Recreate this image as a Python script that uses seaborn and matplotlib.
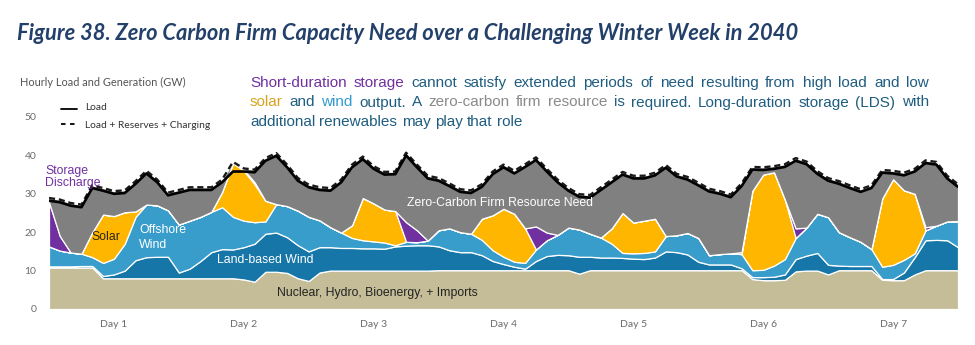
import numpy as np
import pandas as pd
import matplotlib
matplotlib.use("Agg")
import matplotlib.pyplot as plt
from matplotlib.lines import Line2D
import seaborn as sns

# Hourly values (GW), sampled every two hours across the week
hours = np.arange(0, 169, 2)

nuclear_hydro_bio_imports = np.array([
    10.8, 10.8, 10.8, 10.8, 10.8, 8.0, 8.0, 8.0, 8.0, 8.0, 8.0, 8.0,
    8.0, 8.0, 8.0, 8.0, 8.0, 8.0, 7.7, 7.1, 9.7, 9.7, 9.4, 8.0,
    7.3, 9.5, 10.0, 10.0, 10.0, 10.0, 10.0, 10.0, 10.0, 10.0, 10.0, 10.0,
    10.1, 10.1, 10.1, 10.1, 10.1, 10.1, 10.1, 10.1, 10.1, 10.1, 10.1, 10.1,
    10.1, 9.2, 10.1, 10.1, 10.1, 10.1, 10.1, 10.1, 10.1, 10.1, 10.1, 10.1,
    10.1, 10.1, 10.1, 10.1, 10.1, 7.8, 7.5, 7.5, 7.6, 9.8, 10.0, 10.0,
    9.0, 10.1, 10.1, 10.1, 10.1, 7.6, 7.5, 7.5, 9.0, 10.1, 10.1, 10.1,
    10.1])

land_based_wind = np.array([
    0.3, 0.3, 0.3, 0.4, 0.4, 0.6, 1.0, 2.0, 4.7, 5.5, 5.6, 5.6,
    1.5, 2.5, 4.5, 6.8, 7.6, 7.5, 8.4, 9.9, 9.9, 10.2, 9.3, 8.6,
    7.7, 6.6, 6.1, 5.9, 5.9, 5.8, 5.8, 5.7, 6.3, 6.5, 6.6, 6.6,
    6.2, 5.2, 4.7, 4.7, 3.9, 2.4, 1.6, 0.9, 0.4, 2.4, 3.7, 4.0,
    3.9, 4.4, 3.5, 3.3, 3.3, 3.2, 3.0, 2.9, 3.3, 4.9, 4.7, 4.1,
    2.2, 1.5, 1.5, 1.5, 0.5, 0.5, 0.8, 0.9, 1.4, 3.2, 3.9, 4.6,
    2.5, 1.2, 1.1, 1.1, 1.1, 0.2, 0.3, 2.0, 4.5, 7.8, 7.9, 7.8,
    6.0])

offshore_wind = np.array([
    5.2, 4.1, 3.6, 3.2, 2.3, 3.4, 4.1, 7.0, 11.3, 13.7, 13.4, 12.1,
    12.5, 12.5, 11.5, 10.5, 10.9, 8.5, 6.9, 5.6, 3.2, 7.4, 8.1, 9.0,
    9.0, 7.0, 5.2, 4.0, 2.6, 2.1, 1.8, 1.6, 0.3, 1.0, 0.8, 1.2,
    4.2, 5.7, 5.2, 4.8, 4.0, 2.8, 1.9, 1.3, 1.5, 3.0, 4.1, 5.2,
    7.2, 7.1, 6.0, 5.2, 3.6, 1.3, 1.4, 1.6, 1.6, 4.0, 4.4, 5.6,
    6.2, 2.4, 2.7, 2.9, 3.7, 1.8, 1.9, 2.9, 4.0, 5.5, 7.3, 10.2,
    12.4, 8.7, 7.5, 6.3, 4.4, 3.2, 3.7, 3.3, 1.0, 2.6, 3.7, 4.9,
    6.8])

solar = np.array([
    0, 0, 0, 0, 6.5, 12.6, 11.1, 8.2, 1.4, 0, 0, 0,
    0, 0, 0, 0, 4.0, 14.0, 13.0, 9.9, 5.4, 0, 0, 0,
    0, 0, 0, 0, 3.3, 11.0, 9.9, 8.6, 8.9, 0, 0, 0,
    0, 0, 0, 0, 5.5, 9.1, 12.5, 12.5, 9.0, 0, 0, 0,
    0, 0, 0, 0, 4.0, 10.4, 8.0, 8.4, 8.5, 0, 0, 0,
    0, 0, 0, 0, 0, 20.7, 24.8, 24.3, 15.5, 0, 0, 0,
    0, 0, 0, 0, 0, 17.8, 22.3, 18.1, 15.5, 0, 0, 0,
    0])

storage_discharge = np.array([
    11.5, 3.8, 0, 0, 0, 0, 0, 0, 0, 0, 0, 0,
    0, 0, 0, 0, 0, 0, 0.3, 0.5, 0, 0, 0, 0,
    0, 0, 0, 0, 0, 0, 0, 0, 0, 5.1, 3.1, 0,
    0, 0, 0, 0, 0, 0, 0, 0, 0, 6.0, 2.0, 0,
    0, 0, 0, 0, 0, 0, 0, 0, 0, 0, 0, 0,
    0, 0, 0, 0, 0.5, 0, 0, 0, 0, 2.5, 0, 0,
    0, 0, 0, 0, 0, 0, 0, 0, 0, 0.8, 0, 0,
    0])

load = np.array([
    28.2, 27.8, 26.9, 26.5, 31.5, 30.8, 30.0, 30.2, 32.6, 35.3, 33.0, 29.6,
    30.3, 31.0, 31.0, 31.0, 33.0, 35.8, 35.8, 35.6, 38.6, 39.9, 36.9, 33.4,
    31.7, 31.0, 30.8, 33.0, 36.9, 39.0, 36.5, 35.0, 35.1, 40.0, 36.9, 34.0,
    33.4, 32.0, 30.5, 30.2, 31.8, 35.1, 36.9, 35.3, 37.0, 38.8, 35.8, 33.0,
    30.8, 29.2, 29.0, 31.0, 33.0, 35.0, 34.0, 34.0, 34.8, 36.8, 34.5, 33.7,
    32.2, 30.6, 30.0, 29.1, 32.0, 36.3, 36.2, 36.5, 37.0, 38.6, 37.7, 35.2,
    33.4, 32.6, 31.5, 30.5, 31.5, 35.5, 35.3, 34.8, 35.8, 38.0, 37.6, 34.0,
    31.8])

load_reserves_charging = np.array([
    28.9, 28.5, 27.6, 27.2, 32.2, 31.5, 30.7, 30.9, 33.3, 36.0, 33.7, 30.3,
    31.0, 31.7, 31.7, 31.7, 33.7, 38.3, 36.6, 36.3, 39.3, 40.6, 37.6, 34.1,
    32.4, 31.7, 31.5, 33.7, 37.6, 39.7, 37.2, 35.7, 35.8, 40.7, 37.6, 34.7,
    34.1, 32.7, 31.2, 30.9, 32.5, 35.8, 37.6, 36.0, 37.7, 39.5, 36.5, 33.7,
    31.5, 29.9, 29.7, 31.7, 33.7, 35.7, 34.7, 34.7, 35.5, 37.5, 35.2, 34.4,
    32.9, 31.3, 30.7, 29.8, 32.7, 37.0, 36.9, 37.2, 37.7, 39.3, 38.4, 35.9,
    34.1, 33.3, 32.2, 31.2, 32.2, 36.2, 36.0, 35.5, 36.5, 38.7, 38.3, 34.7,
    32.5])

day_labels = ["Day 1", "Day 2", "Day 3", "Day 4", "Day 5", "Day 6", "Day 7"]
y_ticks = [0, 10, 20, 30, 40, 50]

title = "Figure 38. Zero Carbon Firm Capacity Need over a Challenging Winter Week in 2040"

sns.set_theme(style="white")
plt.rcParams["font.family"] = ["Liberation Sans", "DejaVu Sans"]

W, H = 975, 345
fig = plt.figure(figsize=(W / 100, H / 100), dpi=100)
fig.patch.set_facecolor("white")


def fx(x):
    return x / W


def fy(y):
    return 1 - y / H


ax = fig.add_axes([fx(49), fy(309), (958 - 49) / W, (309 - 117) / H])

supply = [nuclear_hydro_bio_imports, land_based_wind, offshore_wind, solar, storage_discharge]
firm_need = np.clip(load_reserves_charging - np.sum(supply, axis=0), 0, None)
colors = ["#c4bd97", "#1776a8", "#399dcb", "#ffb600", "#7030a0", "#808080"]
ax.stackplot(hours, *supply, firm_need, colors=colors,
             edgecolor="white", linewidth=0.9)

df = pd.DataFrame({"hour": hours, "load": load, "load_rc": load_reserves_charging})
sns.lineplot(data=df, x="hour", y="load_rc", ax=ax, color="#1a1a1a",
             linewidth=1.7, linestyle=(0, (2.6, 1.6)))
sns.lineplot(data=df, x="hour", y="load", ax=ax, color="black", linewidth=1.9)

ax.set_xlim(0, 168)
ax.set_ylim(0, 50)
ax.set_xlabel("")
ax.set_ylabel("")
ax.set_xticks(np.arange(12, 168, 24))
ax.set_xticklabels(day_labels)
ax.set_yticks(y_ticks)
ax.set_yticklabels([str(v) for v in y_ticks])
ax.tick_params(axis="both", length=0, labelsize=7.5, labelcolor="#6b6b6b")
ax.tick_params(axis="x", pad=8)
ax.tick_params(axis="y", pad=9)
for lab in ax.get_xticklabels() + ax.get_yticklabels():
    lab.set_family(["Lato", "DejaVu Sans"])
for s in ax.spines.values():
    s.set_visible(False)
ax.grid(False)
ax.set_facecolor("white")

renderer = fig.canvas.get_renderer()

# Title, sized to span the header
t = fig.text(fx(17), fy(39.5), title, fontsize=15, fontweight="bold", style="italic",
             color="#23406a", family=["Lato", "DejaVu Sans"], va="baseline", ha="left")
w = t.get_window_extent(renderer).width
t.set_fontsize(15 * 783 / w)

# Axis heading and legend
fig.text(fx(20), fy(85.5), "Hourly Load and Generation (GW)", fontsize=7.9,
         color="#555555", family=["Lato", "DejaVu Sans"], va="baseline", ha="left")
fig.add_artist(Line2D([fx(61), fx(77)], [fy(109), fy(109)], color="black", lw=1.3))
fig.add_artist(Line2D([fx(61), fx(77)], [fy(124), fy(124)], color="black", lw=1.3,
                      linestyle=(0, (2.5, 2.5))))
fig.text(fx(85), fy(110.5), "Load", fontsize=7.4, color="#333333",
         family=["Lato", "DejaVu Sans"], va="baseline", ha="left")
fig.text(fx(85), fy(127.5), "Load + Reserves + Charging", fontsize=7.4, color="#333333",
         family=["Lato", "DejaVu Sans"], va="baseline", ha="left")

# Callout paragraph, word by word so each phrase keeps its colour
teal = "#1f5d80"
paragraph = [
    [("Short-duration storage", "#7030a0"),
     ("cannot satisfy extended periods of need resulting from high load and low", teal)],
    [("solar", "#d8a21c"), ("and", teal), ("wind", "#2f9bd0"), ("output. A", teal),
     ("zero-carbon firm resource", "#8a8a8a"),
     ("is required. Long-duration storage (LDS) with", teal)],
    [("additional renewables may play that role", teal)],
]
baselines = [87.3, 106.5, 125.7]
para_fs = 11.0
x_left, x_right = 250, 929


def text_width(s):
    tt = fig.text(0, 0, s, fontsize=para_fs)
    wd = tt.get_window_extent(renderer).width
    tt.remove()
    return wd


space_w = text_width("a a") - 2 * text_width("a")
for i, (line, yb) in enumerate(zip(paragraph, baselines)):
    words = [(wd, c) for seg, c in line for wd in seg.split()]
    widths = [text_width(wd) for wd, _ in words]
    if i < len(paragraph) - 1:
        gap = (x_right - x_left - sum(widths)) / (len(words) - 1)
    else:
        gap = space_w
    x = x_left
    for (wd, c), wdt in zip(words, widths):
        fig.text(fx(x), fy(yb), wd, fontsize=para_fs, color=c, va="baseline", ha="left")
        x += wdt + gap

# Area labels
lab_fs = 8.8
fig.text(fx(45), fy(171), "Storage", fontsize=lab_fs, color="#7030a0", va="center", ha="left")
fig.text(fx(45), fy(183), "Discharge", fontsize=lab_fs, color="#7030a0", va="center", ha="left")
fig.text(fx(106), fy(237), "Solar", fontsize=lab_fs, color="#2b2614", va="center", ha="center")
fig.text(fx(139), fy(230), "Offshore", fontsize=lab_fs, color="white", va="center", ha="left")
fig.text(fx(139), fy(244.5), "Wind", fontsize=lab_fs, color="white", va="center", ha="left")
fig.text(fx(217), fy(260), "Land-based Wind", fontsize=lab_fs, color="white", va="center", ha="left")
fig.text(fx(407), fy(203), "Zero-Carbon Firm Resource Need", fontsize=lab_fs, color="white",
         va="center", ha="left")
fig.text(fx(277), fy(293), "Nuclear, Hydro, Bioenergy, + Imports", fontsize=lab_fs,
         color="#222222", va="center", ha="left")

fig.savefig("out.png", dpi=100, facecolor="white")
